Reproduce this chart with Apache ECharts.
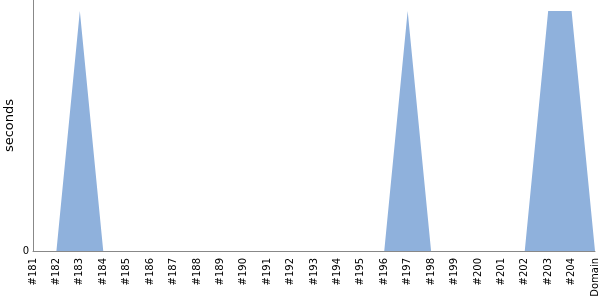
<!DOCTYPE html>
<html><head><meta charset="utf-8">
<script src="https://cdn.jsdelivr.net/npm/echarts@6/dist/echarts.min.js"></script>
<style>html,body{margin:0;padding:0;background:#fff}#c{width:600px;height:300px}</style>
</head><body><div id="c"></div>
<script>
const categories = ['#181','#182','#183','#184','#185','#186','#187','#188','#189','#190','#191','#192','#193','#194','#195','#196','#197','#198','#199','#200','#201','#202','#203','#204','Domain'];
const values = [0,0,1,0,0,0,0,0,0,0,0,0,0,0,0,0,1,0,0,0,0,0,1,1,0];
const yMax = 1.046;
const chart = echarts.init(document.getElementById('c'), null, {renderer:'canvas'});
chart.setOption({
  animation:false,
  grid:{left:33,right:5,top:0,bottom:49,containLabel:false,outerBoundsMode:'none'},
  xAxis:{type:'category',data:categories,boundaryGap:false,
    axisLine:{lineStyle:{color:'#888',width:1}},
    axisTick:{show:false},
    axisLabel:{rotate:90,interval:0,color:'#000',fontSize:10,fontFamily:'DejaVu Sans',margin:7}},
  yAxis:{type:'value',min:0,max:yMax,interval:yMax,
    name:'seconds',nameLocation:'middle',nameGap:17,nameRotate:90,nameMoveOverlap:false,
    nameTextStyle:{color:'#000',fontSize:13,fontFamily:'DejaVu Sans'},
    axisLine:{show:true,lineStyle:{color:'#888',width:1}},
    axisTick:{show:false},splitLine:{show:false},
    axisLabel:{color:'#000',fontSize:10,fontFamily:'DejaVu Sans',margin:4,
      formatter:v=>v===0?'0':''}},
  series:[{type:'line',data:values,symbol:'none',lineStyle:{width:0},
    areaStyle:{color:'#8fb1dc',opacity:1}}]
});
</script></body></html>
